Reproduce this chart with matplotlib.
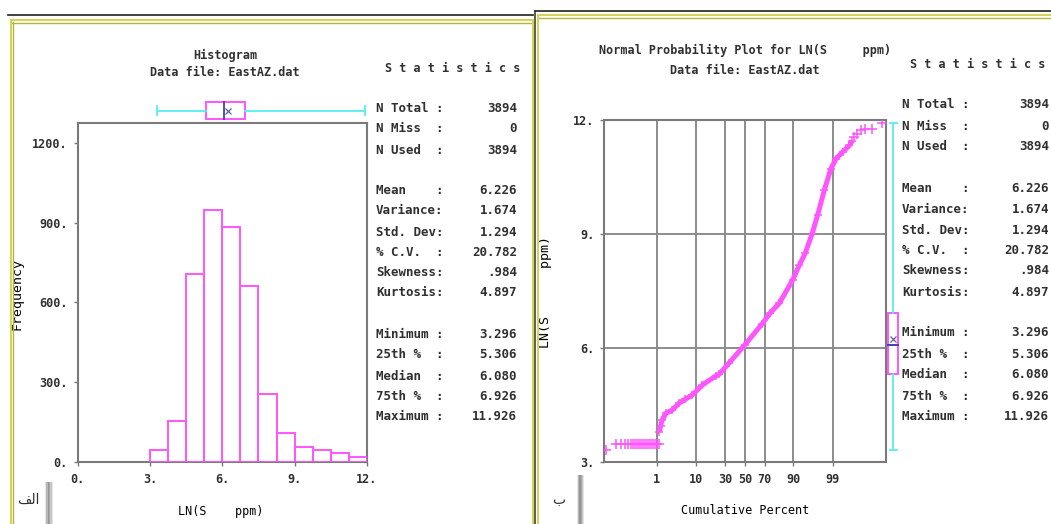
import matplotlib
matplotlib.use("Agg")
import matplotlib.pyplot as plt
from matplotlib.lines import Line2D
from matplotlib.patches import Rectangle
from statistics import NormalDist
import numpy as np

W, H = 1051, 524

# histogram of LN(S ppm)
hist_edges = [3.0, 3.75, 4.5, 5.25, 6.0, 6.75, 7.5, 8.25, 9.0, 9.75, 10.5, 11.25, 12.0]
hist_counts = [45, 156, 706, 947, 882, 662, 254, 110, 56, 45, 34, 18]

# summary statistics table
stat_names = ["N Total :", "N Miss  :", "N Used  :", "",
              "Mean    :", "Variance:", "Std. Dev:", "% C.V.  :", "Skewness:", "Kurtosis:", "",
              "Minimum :", "25th %  :", "Median  :", "75th %  :", "Maximum :"]
stat_values = ["3894", "0", "3894", "",
               "6.226", "1.674", "1.294", "20.782", ".984", "4.897", "",
               "3.296", "5.306", "6.080", "6.926", "11.926"]

# box plot numbers
v_min, v_q25, v_med, v_q75, v_max, v_mean = 3.296, 5.306, 6.080, 6.926, 11.926, 6.226

# normal probability plot: cumulative percent vs LN(S ppm)
low_pct = [0.012, 0.032, 0.052, 0.077, 0.104, 0.128, 0.156, 0.185, 0.219, 0.259,
           0.304, 0.357, 0.417, 0.487, 0.567, 0.659, 0.763, 0.882, 1.017, 1.17]
low_val = [3.296, 3.466, 3.466, 3.466, 3.466, 3.466, 3.466, 3.466, 3.466, 3.466,
           3.466, 3.466, 3.466, 3.466, 3.466, 3.466, 3.466, 3.466, 3.466, 3.466]
mid_pct = [1.21, 1.30, 1.46, 1.83, 2.77, 4.11, 5.72, 8.29, 13.1, 22.2, 25.0, 33.9,
           50.0, 67.9, 75.0, 81.8, 89.6, 92.5, 94.5, 96.2, 97.26, 98.20, 98.85,
           99.20, 99.51, 99.71, 99.774]
mid_val = [3.79, 3.95, 4.10, 4.27, 4.36, 4.54, 4.64, 4.76, 5.02, 5.26, 5.306, 5.60,
           6.08, 6.64, 6.926, 7.17, 7.78, 8.18, 8.50, 9.00, 9.49, 10.15, 10.72,
           10.98, 11.16, 11.33, 11.45]
top_pct = [99.809, 99.852, 99.893, 99.927, 99.961, 99.986]
top_val = [11.55, 11.64, 11.73, 11.77, 11.77, 11.926]

pct_ticks = [1, 10, 30, 50, 70, 90, 99]

MAGENTA = "#ff55ff"
CYAN = "#55eeee"
BLUE = "#4040c0"
GRAY = "#7a7a7a"
TXT = "#303030"

plt.rcParams["font.family"] = ["DejaVu Sans Mono", "DejaVu Sans"]
plt.rcParams["font.size"] = 8.5
plt.rcParams["font.weight"] = "bold"
plt.rcParams["text.color"] = TXT

fig = plt.figure(figsize=(W / 100, H / 100), dpi=100)


def box(x0, y0, x1, y1):
    # pixel box -> figure rect
    return [x0 / W, 1 - y1 / H, (x1 - x0) / W, (y1 - y0) / H]


def ftext(x, y, s, **kw):
    kw.setdefault("ha", "center")
    kw.setdefault("va", "center")
    fig.text(x / W, 1 - y / H, s, **kw)


def fline(xs, ys, **kw):
    fig.add_artist(Line2D([x / W for x in xs], [1 - y / H for y in ys],
                          transform=fig.transFigure, **kw))


def style_axes(ax):
    for s in ax.spines.values():
        s.set_color(GRAY)
        s.set_linewidth(1.5)
    ax.tick_params(length=3, width=1, color=GRAY, labelcolor=TXT, labelsize=8.5)


# ---- histogram panel ----
ax1 = fig.add_axes(box(77.5, 123, 367, 462))
ax1.bar(hist_edges[:-1], hist_counts, width=np.diff(hist_edges), align="edge",
        fill=False, edgecolor=MAGENTA, linewidth=1.4, zorder=3)
ax1.set_xlim(0, 12)
ax1.set_ylim(0, 1275)
ax1.set_xticks([0, 3, 6, 9, 12])
ax1.set_xticklabels([f"{t}." for t in [0, 3, 6, 9, 12]])
ax1.set_yticks([0, 300, 600, 900, 1200])
ax1.set_yticklabels([f"{t}." for t in [0, 300, 600, 900, 1200]])
ax1.tick_params(axis="x", pad=5)
ax1.tick_params(axis="y", pad=4)
style_axes(ax1)
ax1.set_xlabel("LN(S    ppm)", va="center")
ax1.xaxis.set_label_coords(0.496, -0.145)
ax1.set_ylabel("Frequency", va="center", ha="center", fontsize=9.5)
ax1.yaxis.set_label_coords(-0.209, 0.496)

# horizontal box plot above the histogram
bx1 = fig.add_axes(box(77.5, 100, 367, 121), sharex=ax1)
bx1.axis("off")
bx1.set_ylim(0, 1)
bx1.plot([v_min, v_q25], [0.5, 0.5], color=CYAN, lw=1.3)
bx1.plot([v_q75, v_max], [0.5, 0.5], color=CYAN, lw=1.3)
bx1.plot([v_min, v_min], [0.28, 0.72], color=CYAN, lw=1.3)
bx1.plot([v_max, v_max], [0.28, 0.72], color=CYAN, lw=1.3)
bx1.add_patch(Rectangle((v_q25, 0.08), v_q75 - v_q25, 0.84, fill=False,
                        edgecolor=MAGENTA, lw=1.4))
bx1.plot([v_med, v_med], [0.08, 0.92], color=BLUE, lw=1.3)
bx1.plot([v_mean], [0.5], marker="x", color="#6060a0", ms=4, mew=0.9)

ftext(225, 55, "Histogram")
ftext(225, 72, "Data file: EastAZ.dat")

# ---- normal probability panel ----
nd = NormalDist()


def pct_to_z(p):
    p = np.clip(np.asarray(p, dtype=float), 1e-7, 100 - 1e-7)
    return np.vectorize(lambda v: nd.inv_cdf(v / 100.0), otypes=[float])(p)


def z_to_pct(z):
    z = np.asarray(z, dtype=float)
    return np.vectorize(lambda v: nd.cdf(v) * 100.0, otypes=[float])(z)


ax2 = fig.add_axes(box(604, 120, 885.7, 461.7))
ax2.set_xscale("function", functions=(pct_to_z, z_to_pct))
ax2.set_xlim(0.01, 99.99)
ax2.set_ylim(3, 12)
ax2.set_xticks(pct_ticks)
ax2.set_xticklabels([str(t) for t in pct_ticks])
ax2.xaxis.set_minor_locator(plt.NullLocator())
ax2.set_yticks([3, 6, 9, 12])
ax2.set_yticklabels([f"{t}." for t in [3, 6, 9, 12]])
ax2.grid(True, color="#8c8c8c", lw=1.4)
ax2.set_axisbelow(True)
ax2.tick_params(axis="x", pad=5)
ax2.tick_params(axis="y", pad=4)
style_axes(ax2)

ax2.plot(mid_pct, mid_val, color=MAGENTA, lw=3.6, solid_capstyle="butt", zorder=3)
ax2.plot(low_pct, low_val, ls="none", marker="+", ms=6.5, mew=1.1, color=MAGENTA, zorder=4)
ax2.plot(mid_pct, mid_val, ls="none", marker="+", ms=5.5, mew=1.1, color=MAGENTA, zorder=4)
ax2.plot(top_pct, top_val, ls="none", marker="+", ms=6.5, mew=1.1, color=MAGENTA, zorder=4)

ax2.set_xlabel("Cumulative Percent", va="center")
ax2.xaxis.set_label_coords(0.5, -0.144)
ax2.set_ylabel("LN(S      ppm)", va="center", ha="center", fontsize=9.5)
ax2.yaxis.set_label_coords(-0.209, 0.497)

# vertical box plot beside the probability plot
bx2 = fig.add_axes(box(886, 120, 900, 461.7), sharey=ax2)
bx2.axis("off")
bx2.set_xlim(0, 1)
bx2.plot([0.5, 0.5], [v_min, v_q25], color=CYAN, lw=1.3)
bx2.plot([0.5, 0.5], [v_q75, v_max], color=CYAN, lw=1.3)
bx2.plot([0.25, 0.75], [v_min, v_min], color=CYAN, lw=1.3)
bx2.plot([0.25, 0.75], [v_max, v_max], color=CYAN, lw=1.3)
bx2.add_patch(Rectangle((0.12, v_q25), 0.76, v_q75 - v_q25, fill=False,
                        edgecolor=MAGENTA, lw=1.4))
bx2.plot([0.12, 0.88], [v_med, v_med], color=BLUE, lw=1.4)
bx2.plot([0.5], [v_mean], marker="x", color="#6060a0", ms=4, mew=0.9)

ftext(745, 50, "Normal Probability Plot for LN(S     ppm)")
ftext(745, 70, "Data file: EastAZ.dat")

# ---- statistics columns ----
rows_left = [108, 129, 150, 170, 190, 211, 232, 252, 273, 293, 314, 335, 355, 376, 397, 417]
rows_right = [105, 126, 147, 167, 188, 209, 230, 250, 271, 292, 312, 333, 354, 375, 396, 417]
for (x_lab, x_val, x_head, y_head, rows) in [(376, 517, 453, 68, rows_left),
                                            (902, 1049, 978, 64, rows_right)]:
    ftext(x_head, y_head, "S t a t i s t i c s", fontsize=8.5)
    for name, val, y in zip(stat_names, stat_values, rows):
        if name:
            ftext(x_lab, y, name, ha="left", fontsize=9)
            ftext(x_val, y, val, ha="right", fontsize=9)

# ---- window frames ----
fline([8, 533], [15, 15], color="#202020", lw=1.2)
fline([11, 533], [20, 20], color="#d4d45a", lw=1.5)
fline([12, 533], [22.5, 22.5], color="#b4b43c", lw=1.0)
fline([10.5, 10.5], [20, 524], color="#d4d45a", lw=1.5)
fline([12.5, 12.5], [22, 524], color="#b4b43c", lw=1.0)

fline([535, 1051], [10.5, 10.5], color="#202020", lw=1.2)
fline([538, 1051], [15, 15], color="#d4d45a", lw=1.5)
fline([539, 1051], [17.5, 17.5], color="#b4b43c", lw=1.0)
fline([533, 533], [20, 524], color="#d4d45a", lw=1.5)
fline([535.3, 535.3], [10.5, 524], color="#303030", lw=1.1)
fline([538, 538], [15, 524], color="#d4d45a", lw=1.5)

# scroll shadows at the bottom
for x0, y0, w in [(45, 482, 8), (577, 475, 7)]:
    shades = ["#e6e6e6", "#b8b8b8", "#969696", "#a8a8a8", "#c8c8c8", "#e4e4e4"]
    step = w / len(shades)
    for i, c in enumerate(shades):
        fig.add_artist(Rectangle(((x0 + i * step) / W, 0), step / W, 1 - y0 / H,
                                 transform=fig.transFigure, color=c, lw=0))

# panel captions
ftext(28, 500, "\ufed2\ufedf\ufe8d", family="DejaVu Sans", fontsize=10, weight="normal")
ftext(559, 500, "\u0628", family="DejaVu Sans", fontsize=10, weight="normal")

fig.savefig("out.png", dpi=100)
